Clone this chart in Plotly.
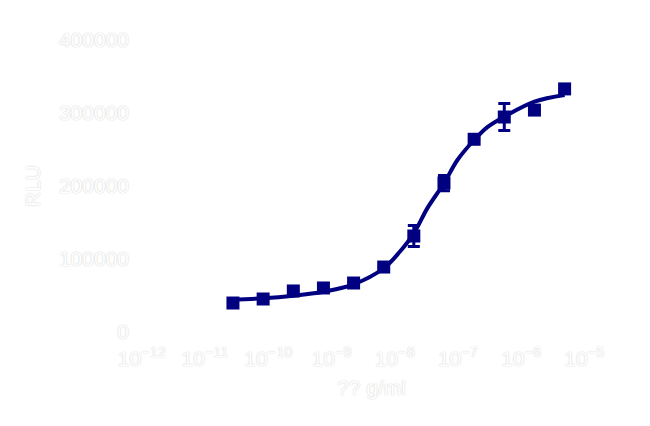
import plotly.graph_objects as go

# dose-response data (3-fold dilution series)
conc = [2.75e-11, 8.26e-11, 2.48e-10, 7.43e-10, 2.23e-9, 6.68e-9,
        2.0e-8, 6.0e-8, 1.8e-7, 5.4e-7, 1.62e-6, 4.86e-6]
rlu = [39700, 45200, 56200, 60300, 67100, 89000,
       131500, 204000, 264000, 294500, 304000, 333000]
rlu_err = [0, 0, 0, 0, 0, 0, 14400, 10500, 0, 18500, 0, 0]

# fitted curve
curve_conc = [2.6e-11, 8.26e-11, 2.48e-10, 7.43e-10, 2.23e-9, 6.68e-9, 1.2e-8,
              2.0e-8, 3.3e-8, 6.0e-8, 9.8e-8, 1.8e-7, 2.95e-7, 5.4e-7,
              1.62e-6, 4.86e-6]
curve_rlu = [44500, 46200, 49700, 55200, 65300, 87300, 110000,
             135200, 170000, 203700, 235600, 263000, 281000, 294900,
             315500, 324700]

xtick_vals = [1e-12, 1e-11, 1e-10, 1e-9, 1e-8, 1e-7, 1e-6, 1e-5]
xtick_text = ["10<sup>\u221212</sup>", "10<sup>\u221211</sup>", "10<sup>\u221210</sup>",
              "10<sup>\u22129</sup>", "10<sup>\u22128</sup>", "10<sup>\u22127</sup>",
              "10<sup>\u22126</sup>", "10<sup>\u22125</sup>"]
ytick_vals = [0, 100000, 200000, 300000, 400000]
ytick_text = ["0", "100000", "200000", "300000", "400000"]

navy = "#000080"
ghost = dict(family="Liberation Sans, Arial", size=21, color="white",
             shadow="0px 0px 1.5px #c0c0c0")

fig = go.Figure()
fig.add_trace(go.Scatter(x=curve_conc, y=curve_rlu, mode="lines",
                         line=dict(color=navy, width=4, shape="spline"),
                         hoverinfo="skip"))
fig.add_trace(go.Scatter(x=conc, y=rlu, mode="markers",
                         marker=dict(symbol="square", size=13, color=navy),
                         error_y=dict(type="data", array=rlu_err, color=navy,
                                      thickness=3, width=6)))

fig.update_layout(
    width=650, height=426,
    margin=dict(l=125, r=48, t=32, b=102),
    paper_bgcolor="white", plot_bgcolor="white",
    showlegend=False,
    font=ghost,
)
fig.update_xaxes(type="log", range=[-12.142, -4.595], tickvals=xtick_vals,
                 ticktext=xtick_text, showgrid=False, zeroline=False,
                 showline=False, ticks="", tickfont=ghost,
                 ticklabelstandoff=12,
                 title=dict(text="?? g/ml", font=ghost, standoff=11))
fig.update_yaxes(range=[0, 400000], tickvals=ytick_vals, ticktext=ytick_text,
                 showgrid=False, zeroline=False, showline=False, ticks="",
                 tickfont=ghost, ticklabelstandoff=3,
                 title=dict(text="RLU", font=ghost, standoff=12))

fig.write_html("out.html")
